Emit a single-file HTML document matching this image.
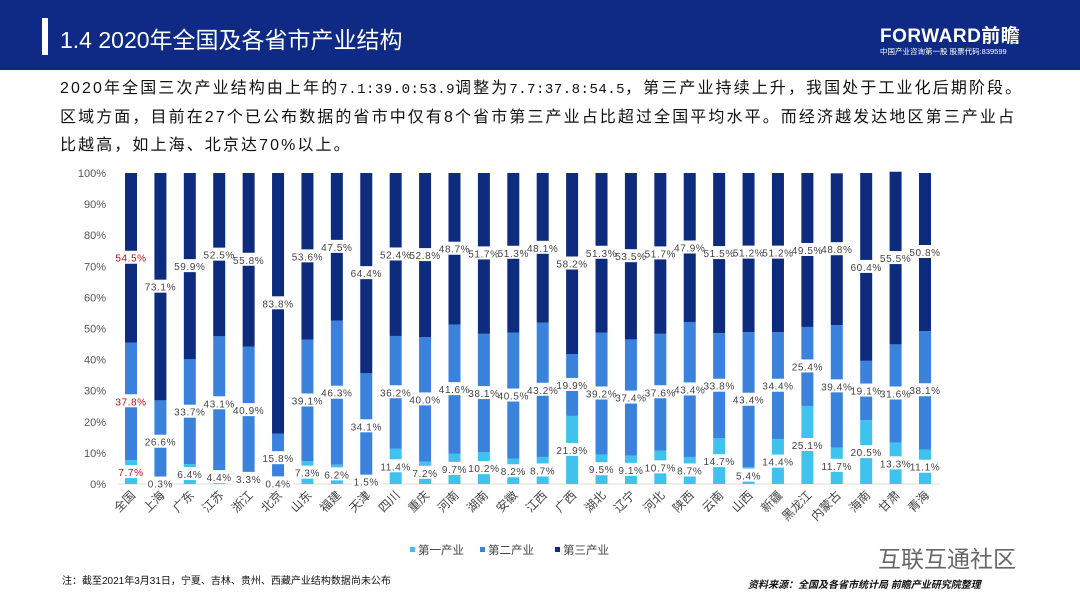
<!DOCTYPE html>
<html><head><meta charset="utf-8">
<style>
body{margin:0;width:1080px;height:608px;background:#fff;font-family:"Liberation Sans","Noto Sans CJK SC",sans-serif;overflow:hidden;position:relative}
.hdr{position:absolute;left:0;top:0;width:1080px;height:70px;background:#0f2a85}
.bar{position:absolute;left:42px;top:18px;width:6px;height:37px;background:#fff}
.title{position:absolute;left:60px;top:24px;color:#fff;font-size:23px;line-height:32px}
.logo{position:absolute;left:880px;top:21px;color:#fff;font-size:19px;font-weight:bold;letter-spacing:0.5px}
.logo2{position:absolute;left:880px;top:46px;color:#fff;font-size:7.5px}
.txt{position:absolute;left:60px;top:75px;width:1020px;font-size:16px;letter-spacing:2.1px;line-height:28px;color:#111;white-space:nowrap}
.txt .m{font-family:"Liberation Mono",monospace;font-size:14px;letter-spacing:0.5px}
.note{position:absolute;left:62px;top:572px;font-size:10px;color:#111}
.src{position:absolute;left:748px;top:576px;font-size:10px;font-style:italic;color:#111;font-weight:bold}
.wm{position:absolute;left:878px;top:540px;font-size:23px;color:#666}
</style></head><body>
<div class="hdr"></div>
<div class="bar"></div>
<div class="title">1.4 2020年全国及各省市产业结构</div>
<div class="logo">FORWARD前瞻</div>
<div class="logo2">中国产业咨询第一股 股票代码:839599</div>
<div class="txt">2020年全国三次产业结构由上年的<span class="m">7.1:39.0:53.9</span>调整为<span class="m">7.7:37.8:54.5</span>，第三产业持续上升，我国处于工业化后期阶段。<br>区域方面，目前在27个已公布数据的省市中仅有8个省市第三产业占比超过全国平均水平。而经济越发达地区第三产业占<br>比越高，如上海、北京达70%以上。</div>
<svg id="chart" width="1080" height="608" style="position:absolute;left:0;top:0"></svg>
<div class="note">注：截至2021年3月31日，宁夏、吉林、贵州、西藏产业结构数据尚未公布</div>
<div class="wm">互联互通社区</div>
<div class="src">资料来源：全国及各省市统计局 前瞻产业研究院整理</div>
<script>
const categories=["全国","上海","广东","江苏","浙江","北京","山东","福建","天津","四川","重庆","河南","湖南","安徽","江西","广西","湖北","辽宁","河北","陕西","云南","山西","新疆","黑龙江","内蒙古","海南","甘肃","青海"];
const primary=[7.7,0.3,6.4,4.4,3.3,0.4,7.3,6.2,1.5,11.4,7.2,9.7,10.2,8.2,8.7,21.9,9.5,9.1,10.7,8.7,14.7,5.4,14.4,25.1,11.7,20.5,13.3,11.1];
const secondary=[37.8,26.6,33.7,43.1,40.9,15.8,39.1,46.3,34.1,36.2,40.0,41.6,38.1,40.5,43.2,19.9,39.2,37.4,37.6,43.4,33.8,43.4,34.4,25.4,39.4,19.1,31.6,38.1];
const tertiary=[54.5,73.1,59.9,52.5,55.8,83.8,53.6,47.5,64.4,52.4,52.8,48.7,51.7,51.3,48.1,58.2,51.3,53.5,51.7,47.9,51.5,51.2,51.2,49.5,48.8,60.4,55.5,50.8];
const yTicks=[0,10,20,30,40,50,60,70,80,90,100];
const seriesNames=["第一产业","第二产业","第三产业"];
const colors=["#3fc3ee","#3b82dc","#0e2c7e"];
const svg=document.getElementById('chart');const NS="http://www.w3.org/2000/svg";
const y0=484,y1=173,x0=131,step=(925-131)/27,bw=12;
const Y=v=>y0-(y0-y1)*v/100, X=i=>x0+step*i;
function mk(t,a){const e=document.createElementNS(NS,t);for(const k in a)e.setAttribute(k,a[k]);svg.appendChild(e);return e;}
yTicks.forEach(t=>{const e=mk('text',{x:106,y:Y(t)+4,'text-anchor':'end','font-size':11,fill:'#555'});e.textContent=t+'%';

});
const axis=mk('line',{x1:118,x2:940,y1:y0,y2:y0,stroke:'#ddd'});


const series=[primary,secondary,tertiary];
categories.forEach((c,i)=>{let base=0;
 series.forEach((s,k)=>{const v=s[i];const r=mk('rect',{x:X(i)-bw/2,y:Y(base+v),width:bw,height:Y(base)-Y(base+v),fill:colors[k]});
 
 
 base+=v;});
});
categories.forEach((c,i)=>{let base=0;
 series.forEach((s,k)=>{const v=s[i];const cy=Y(base+v/2);
 const bg=mk('rect',{x:X(i)-14,y:cy-7,width:28,height:13,fill:'#fff'});
 
 
 const t=mk('text',{x:X(i),y:cy+4,'text-anchor':'middle','font-size':10,fill:i===0?'#c0101a':'#444','font-family':'Liberation Sans,sans-serif','letter-spacing':'0.6'});
 t.textContent=v.toFixed(1)+'%';
 
 
 base+=v;});
 const lx=X(i)+5,ly=y0+12;
 const t=mk('text',{x:lx,y:ly,'text-anchor':'end','font-size':12,fill:'#444',transform:`rotate(-45 ${lx} ${ly})`});
 t.textContent=c;
 
 
});
const lx=[410,480,555];
seriesNames.forEach((n,k)=>{const r=mk('rect',{x:lx[k],y:547,width:5,height:5,fill:colors[k]});


const t=mk('text',{x:lx[k]+8,y:554,'font-size':11.5,fill:'#444'});t.textContent=n;

});
</script>
</body></html>
